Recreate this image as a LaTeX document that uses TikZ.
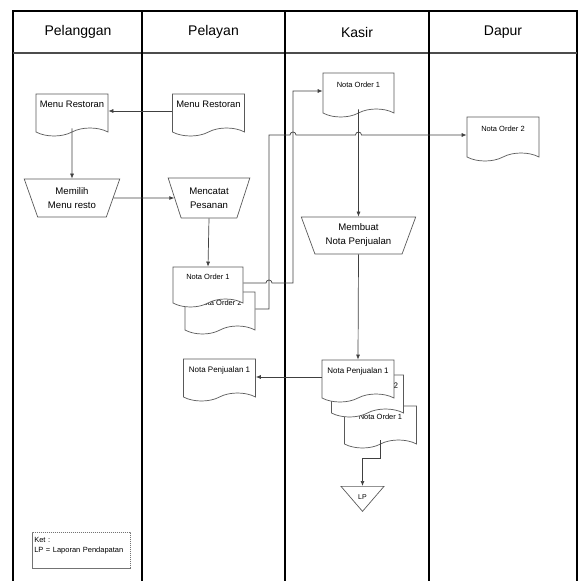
\documentclass[tikz,border=0pt]{standalone}
\usepackage{fontspec}
\setmainfont{Liberation Sans}
\usetikzlibrary{shapes.symbols,shapes.geometric,arrows.meta,calc}

\tikzset{
  lanehead/.style={font=\fontsize{14}{16}\selectfont},
  docnode/.style={tape, tape bend top=none, tape bend bottom=in and out,
    tape bend height=8pt, draw=black!65, fill=white, line width=0.7pt,
    minimum width=72pt, minimum height=42pt, inner sep=1pt,
    text height=6pt, text depth=14pt, font=\fontsize{7.5}{9}\selectfont},
  procnode/.style={trapezium, trapezium left angle=67, trapezium right angle=67,
    shape border rotate=180, trapezium stretches=true, draw=black!65,
    fill=white, line width=0.7pt, align=center, inner sep=1pt,
    font=\fontsize{9.6}{14}\selectfont},
  flow/.style={draw=black!75, line width=0.7pt, -{Latex[length=5pt,width=4pt]}},
}

\begin{document}
\begin{tikzpicture}[x=1pt,y=-1pt]
    \useasboundingbox (0,0) rectangle (584,581);

    % swimlanes
    \draw[line width=1.6pt] (13,581) -- (13,11) -- (577,11) -- (577,581);
    \draw[line width=1.1pt, black!70] (13,53) -- (577,53);
    \foreach \x in {142,285,429} {
        \draw[line width=1.2pt] (\x,11) -- (\x,581);
    }
    \node[lanehead] (hpelanggan) at (78,32) {Pelanggan};
    \node[lanehead] (hpelayan) at (213.5,32) {Pelayan};
    \node[lanehead] (hkasir) at (357,32) {Kasir};
    \node[lanehead] (hdapur) at (503,32) {Dapur};

    % documents and processes
    \node[docnode, font=\fontsize{9.4}{11}\selectfont] (menu1) at (72,111) {Menu Restoran};
    \node[docnode, font=\fontsize{9.4}{11}\selectfont] (menu2) at (208.5,111) {Menu Restoran};
    \node[procnode, minimum width=96pt, minimum height=38pt] (memilih) at (72,198) {Memilih\\Menu resto};
    \node[procnode, minimum width=82pt, minimum height=40pt] (mencatat) at (209,198) {Mencatat\\Pesanan};

    \node[docnode, minimum width=70pt] (order2p) at (220,309) {Nota Order 2};
    \node[docnode, minimum width=70pt, minimum height=40pt] (order1p) at (208,283) {Nota Order 1};

    \node[docnode, minimum width=71pt, minimum height=44pt] (order1k) at (358.5,91) {Nota Order 1};
    \node[docnode, minimum height=44pt] (order2d) at (503,135) {Nota Order 2};
    \node[procnode, minimum width=115pt, minimum height=37pt] (membuat) at (358.5,235.5) {Membuat\\Nota Penjualan};

    \node[docnode, font=\fontsize{8}{10}\selectfont] (jual1p) at (219.5,376) {Nota Penjualan 1};
    \node[docnode] (order1s) at (380.5,423) {Nota Order 1};
    \node[docnode, font=\fontsize{8}{10}\selectfont] (jual2k) at (367.5,392) {Nota Penjualan 2};
    \node[docnode, font=\fontsize{8}{10}\selectfont] (jual1k) at (358,377) {Nota Penjualan 1};

    \node[isosceles triangle, isosceles triangle apex angle=81, shape border rotate=270,
          isosceles triangle stretches, minimum width=43pt, minimum height=25pt,
          draw=black!65, line width=0.7pt, inner sep=0pt, anchor=north] (lp) at (362.5,486) {};
    \node[font=\fontsize{7}{8}\selectfont] (lptext) at (362.5,497) {LP};

    \node[draw=black!55, dash pattern=on 1.2pt off 0.8pt, line width=0.6pt,
          anchor=north west, minimum width=98pt, minimum height=36pt,
          text width=94pt, align=left, inner sep=2pt, text height=6pt, text depth=22pt,
          font=\fontsize{7.5}{10}\selectfont] (ket) at (32,532) {Ket :\\LP = Laporan Pendapatan};

    % connectors
    \coordinate (riserB) at (269,0);
    \coordinate (riserA) at (293,0);
    \draw[flow] (menu2.west) -- (menu1.east);
    \draw[flow] (menu1.south) -- (memilih.north);
    \draw[flow] (memilih.east) -- (mencatat.west);
    \draw[flow] (mencatat.south) -- (order1p.north);
    \draw[flow] (order1p.east) -- ($(riserB |- order1p.east)+(-3,0)$)
        arc[start angle=180, end angle=360, radius=3]
        -| (riserA |- order1k.west) -- (order1k.west);
    \draw[flow] (order2p.east) -| (riserB |- order2d.west)
        -- ($(riserA |- order2d.west)+(-3,0)$)
        arc[start angle=180, end angle=360, radius=3]
        -- ($(order1k.south |- order2d.west)+(-3,0)$)
        arc[start angle=180, end angle=360, radius=3]
        -- (order2d.west);
    \draw[flow] (order1k.south) -- (membuat.north);
    \draw[flow] (membuat.south) -- (jual1k.north);
    \draw[flow] (jual1k.west) -- (jual1k.west -| jual1p.east);
    \draw[flow] (order1s.south) -- ++(0,18) -| (lp.north);
\end{tikzpicture}
\end{document}
